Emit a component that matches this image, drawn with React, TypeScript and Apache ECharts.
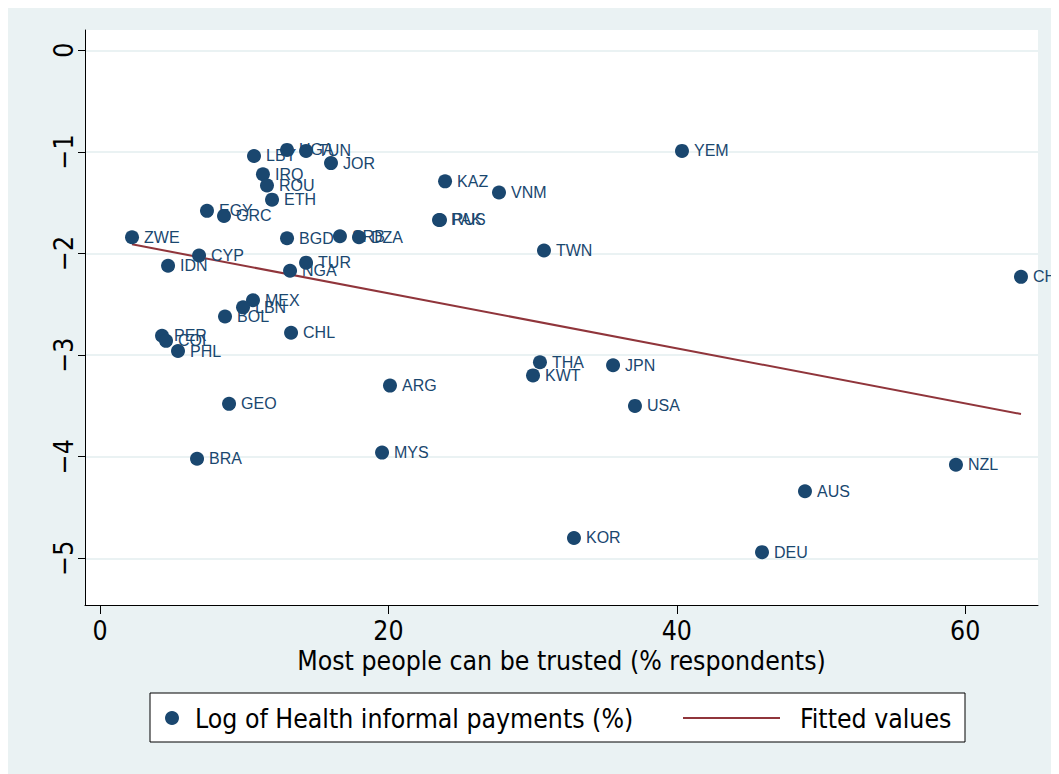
import React, { useEffect, useRef } from "react";
import * as echarts from "echarts";

const countries = ["ZWE","IDN","CYP","EGY","GRC","LBY","IRQ","ROU","ETH","UGA","TUN","JOR","BGD","SRB","DZA","TUR","NGA","KAZ","VNM","PAK","RUS","TWN","YEM","CHN","MEX","LBN","BOL","CHL","PER","COL","PHL","GEO","BRA","ARG","MYS","THA","KWT","JPN","USA","KOR","DEU","AUS","NZL"];
const trust = [2.22,4.72,6.87,7.42,8.60,10.68,11.30,11.58,11.93,12.97,14.29,16.02,12.97,16.64,17.96,14.29,13.18,23.93,27.67,23.51,23.58,30.79,40.36,63.87,10.61,9.92,8.67,13.25,4.30,4.58,5.41,8.95,6.73,20.11,19.56,30.51,30.03,35.58,37.10,32.87,45.91,48.89,59.36];
const logPayments = [-1.84,-2.12,-2.02,-1.58,-1.63,-1.04,-1.22,-1.33,-1.47,-0.98,-0.99,-1.11,-1.85,-1.83,-1.84,-2.09,-2.17,-1.29,-1.40,-1.67,-1.67,-1.97,-0.99,-2.23,-2.46,-2.53,-2.62,-2.78,-2.81,-2.86,-2.96,-3.48,-4.02,-3.30,-3.96,-3.07,-3.20,-3.10,-3.50,-4.80,-4.94,-4.34,-4.08];
const fittedX = [2.22, 63.87];
const fittedY = [-1.91, -3.58];
const xTicks = [0, 20, 40, 60];
const yTicks = [0, -1, -2, -3, -4, -5];

const NAVY = "#1a476f";
const MAROON = "#90353b";
const BG = "#eaf2f3";
const AXIS_FONT = "'Liberation Sans Narrow', 'DejaVu Sans Condensed', 'Liberation Sans', sans-serif";
const FS = 26.4;

export default function App() {
  const ref = useRef<HTMLDivElement>(null);
  useEffect(() => {
    if (!ref.current) return;
    const chart = echarts.init(ref.current, undefined, { renderer: "svg" });
    const scatterData = countries.map((c, i) => ({ name: c, value: [trust[i], logPayments[i]] }));
    const fitData = fittedX.map((x, i) => [x, fittedY[i]]);
    chart.setOption({
      animation: false,
      backgroundColor: BG,
      grid: {
        left: 77, right: 21, top: 22, bottom: 169,
        show: true, backgroundColor: "#ffffff", borderWidth: 0,
      },
      graphic: [
        {
          type: "rect", z: -1,
          shape: { x: 142, y: 685, width: 815, height: 49 },
          style: { fill: "#ffffff", stroke: "#000000", lineWidth: 1 },
        },
      ],
      legend: [
        {
          data: ["Log of Health informal payments (%)"],
          left: 157, top: 697, padding: 0,
          itemWidth: 14, itemHeight: 14, icon: "circle",
          textStyle: { fontFamily: AXIS_FONT, fontSize: FS, color: "#000", padding: [0, 0, 0, 11] },
        },
        {
          data: ["Fitted values"],
          left: 675, top: 697, padding: 0,
          itemWidth: 97, itemHeight: 2, icon: "rect",
          textStyle: { fontFamily: AXIS_FONT, fontSize: FS, color: "#000", padding: [0, 0, 0, 15] },
        },
      ],
      xAxis: {
        type: "value", min: -1.04, max: 65.05,
        name: "Most people can be trusted (% respondents)",
        nameLocation: "middle", nameGap: 41,
        nameTextStyle: { fontFamily: AXIS_FONT, fontSize: FS, color: "#000" },
        axisLine: { show: true, onZero: false, lineStyle: { color: "#000", width: 1 } },
        axisTick: { show: true, length: 9, customValues: xTicks, lineStyle: { color: "#000" } },
        axisLabel: { customValues: xTicks, margin: 12, fontFamily: AXIS_FONT, fontSize: FS, color: "#000" },
        splitLine: { show: false },
      },
      yAxis: {
        type: "value", min: -5.46, max: 0.2,
        axisLine: { show: true, onZero: false, lineStyle: { color: "#000", width: 1 } },
        axisTick: { show: true, length: 7, customValues: yTicks, lineStyle: { color: "#000" } },
        axisLabel: {
          customValues: yTicks, rotate: 90, margin: 9,
          fontFamily: AXIS_FONT, fontSize: FS, color: "#000",
          formatter: (v: number) => (v < 0 ? "\u2212" + Math.abs(v) : String(v)),
        },
        splitLine: { show: true, lineStyle: { color: BG, width: 2 } },
      },
      series: [
        {
          name: "Log of Health informal payments (%)",
          type: "scatter", symbol: "circle", symbolSize: 14,
          itemStyle: { color: NAVY, opacity: 1 },
          data: scatterData,
          z: 3,
          label: {
            show: true, position: "right", distance: 5, formatter: "{b}",
            color: NAVY, fontSize: 16, fontFamily: "'Liberation Sans', Arial, sans-serif",
          },
          labelLayout: { hideOverlap: false },
          emphasis: { disabled: true },
        },
        {
          name: "Fitted values",
          type: "line", data: fitData, showSymbol: false, symbol: "none",
          lineStyle: { color: MAROON, width: 2 },
          itemStyle: { color: MAROON },
          z: 2,
          emphasis: { disabled: true },
        },
      ],
    });
    return () => chart.dispose();
  }, []);
  return <div ref={ref} style={{ width: 1051, height: 766 }} />;
}
